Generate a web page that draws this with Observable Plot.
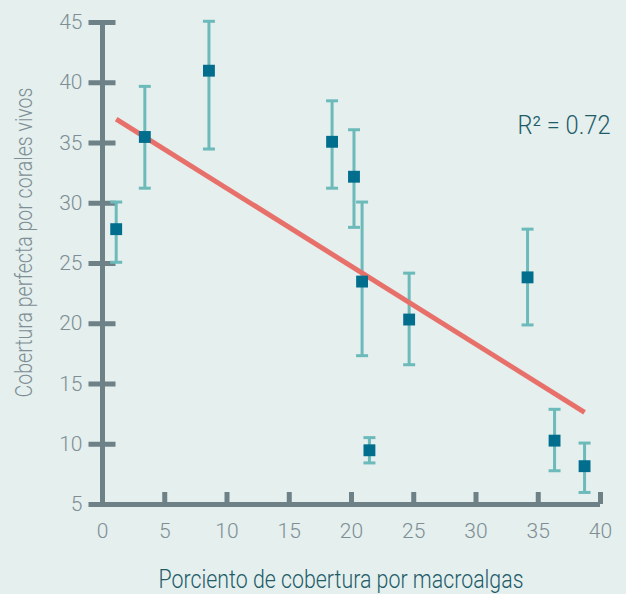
<!DOCTYPE html>
<html>
<head>
<meta charset="utf-8">
<script src="https://cdn.jsdelivr.net/npm/d3@7"></script>
<script src="https://cdn.jsdelivr.net/npm/@observablehq/plot@0.6"></script>
<style>
  html, body { margin: 0; padding: 0; background: #e4efee; }
  #chart svg { display: block; }
</style>
</head>
<body>
<div id="chart"></div>
<script>
// Data
const macroalgas = [1.1, 3.4, 8.55, 18.44, 20.2, 20.85, 24.63, 34.14, 21.44, 36.31, 38.72];
const coralVivo  = [27.85, 35.5, 41.0, 35.1, 32.2, 23.5, 20.35, 23.85, 9.5, 10.3, 8.18];
const errHigh    = [30.1, 39.7, 45.1, 38.5, 36.1, 30.1, 24.2, 27.85, 10.55, 12.9, 10.1];
const errLow     = [25.1, 31.25, 34.5, 31.25, 28.0, 17.35, 16.6, 19.9, 8.45, 7.8, 6.0];
const xTicks = [0, 5, 10, 15, 20, 25, 30, 35, 40];
const yTicks = [5, 10, 15, 20, 25, 30, 35, 40, 45];
const xTitle = "Porciento de cobertura por macroalgas";
const yTitle = "Cobertura perfecta por corales vivos";
const r2Label = "R\u00B2 = 0.72";

const data = macroalgas.map((x, i) => ({x, y: coralVivo[i], hi: errHigh[i], lo: errLow[i]}));

const FONT = "Roboto, 'Liberation Sans', sans-serif";
const AXIS = "#6d8187";
const LABEL = "#7e8e93";
const DARK = "#1e5c68";

const capSymbol = {
  draw(ctx, size) {
    const r = Math.sqrt(size / Math.PI);
    ctx.moveTo(-r, 0);
    ctx.lineTo(r, 0);
  }
};

const chart = Plot.plot({
  width: 626,
  height: 594,
  marginLeft: 102,
  marginRight: 26,
  marginTop: 22,
  marginBottom: 90,
  style: { background: "#e4efee", fontFamily: FONT },
  x: { domain: [0, 40], axis: null },
  y: { domain: [5, 45], axis: null },
  marks: [
    // y ticks (centered on axis)
    Plot.axisY({ticks: yTicks, tickSize: 27, tickFormat: () => "", label: null, stroke: AXIS, strokeWidth: 5, dx: 13.5, strokeOpacity: 1}),
    // x ticks (upward)
    Plot.axisX({ticks: xTicks, tickSize: 12, tickFormat: () => "", label: null, stroke: AXIS, strokeWidth: 5, dy: -12, strokeOpacity: 1}),
    // axis lines
    Plot.ruleX([0], {y1: 5, y2: 45, stroke: AXIS, strokeWidth: 5}),
    Plot.ruleY([5], {x1: 0, x2: 40, stroke: AXIS, strokeWidth: 5}),
    // tick labels
    Plot.axisY({ticks: yTicks, tickSize: 0, tickPadding: 20, fontSize: 21, fontWeight: 300, fill: LABEL, label: null}),
    Plot.axisX({ticks: xTicks, tickSize: 0, tickPadding: 19, fontSize: 21, fontWeight: 300, fill: LABEL, label: null}),
    // error bars
    Plot.ruleX(data, {x: "x", y1: "lo", y2: "hi", stroke: "#6cbab9", strokeWidth: 3}),
    Plot.dot(data, {x: "x", y: "hi", symbol: capSymbol, r: 6, stroke: "#6cbab9", strokeWidth: 3, fill: "none"}),
    Plot.dot(data, {x: "x", y: "lo", symbol: capSymbol, r: 6, stroke: "#6cbab9", strokeWidth: 3, fill: "none"}),
    // regression
    Plot.linearRegressionY(data, {x: "x", y: "y", ci: 0, stroke: "#e8706a", strokeWidth: 5, strokeLinecap: "butt"}),
    // markers
    Plot.dot(data, {x: "x", y: "y", symbol: "square", r: 6.7, fill: "#006e8c", stroke: "none"}),
    // R² label
    Plot.text([r2Label], {frameAnchor: "top-right", dx: 10, dy: 103, fontSize: 26, fontWeight: 300, fill: DARK, textAnchor: "end", lineAnchor: "middle"}),
    // titles
    Plot.text([xTitle], {frameAnchor: "bottom-left", dx: 56, dy: 75, fontSize: 25, fontWeight: 300, fill: DARK, textAnchor: "start", lineAnchor: "middle"}),
    Plot.text([yTitle], {frameAnchor: "left", dx: -78, dy: 134, rotate: -90, fontSize: 24, fontWeight: 300, fill: LABEL, textAnchor: "start", lineAnchor: "middle"})
  ]
});

// condense the titles to the reference's narrow lettering
const fits = new Map([[xTitle, 365], [yTitle, 310], [r2Label, 93]]);
chart.querySelectorAll("text").forEach(t => {
  const w = fits.get(t.textContent);
  if (w) {
    t.setAttribute("textLength", w);
    t.setAttribute("lengthAdjust", "spacingAndGlyphs");
  }
});

document.getElementById("chart").appendChild(chart);
</script>
</body>
</html>
